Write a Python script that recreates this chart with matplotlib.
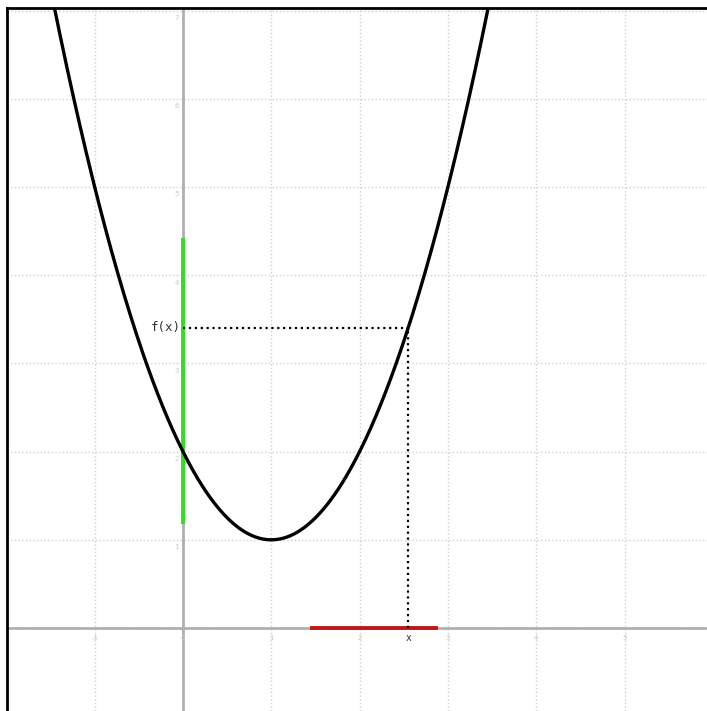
import numpy as np
import matplotlib.pyplot as plt

# parabola f(x) = x^2 - 2x + 2
coeffs = [1, -2, 2]
x_point = 2.55
green_range = [1.2, 4.4]   # segment on y axis
red_range = [1.46, 2.87]   # segment on x axis
x_ticks = [-1, 0, 1, 2, 3, 4, 5]
y_ticks = [1, 2, 3, 4, 5, 6, 7]

fig = plt.figure(figsize=(7.07, 7.11), dpi=100)
ax = fig.add_axes([7 / 707, 0, 700 / 707, 703 / 711])

xs = np.linspace(-2.5, 6, 600)
ax.plot(xs, np.polyval(coeffs, xs), color='black', lw=2.4, zorder=5)

# grid
ax.set_xticks(x_ticks)
ax.set_yticks([0] + y_ticks)
ax.grid(True, linestyle=':', color='#d0d0d0', lw=1)
ax.tick_params(length=0, labelbottom=False, labelleft=False)

# axes lines
ax.axhline(0, color='#b0b0b0', lw=2, zorder=2)
ax.axvline(0, color='#b0b0b0', lw=2, zorder=2)
for t in x_ticks:
    ax.text(t, -0.08, str(t), fontsize=5, color='#c8c8c8', ha='center', va='top')
for t in y_ticks:
    ax.text(-0.05, t - 0.05, str(t), fontsize=5, color='#c8c8c8', ha='right', va='top')

# intervals
ax.plot([0, 0], green_range, color='#33dd22', lw=2.8, zorder=4)
ax.plot(red_range, [0, 0], color='#c01818', lw=2.8, zorder=4)

# dotted guides
fx = np.polyval(coeffs, x_point)
ax.plot([0, x_point], [fx, fx], color='black', ls=':', lw=1.6, zorder=6)
ax.plot([x_point, x_point], [0, fx], color='black', ls=':', lw=1.6, zorder=6)
ax.text(-0.03, fx, 'f(x)', fontsize=9, family='DejaVu Sans Mono', color='#333333',
        ha='right', va='center')
ax.text(x_point, -0.06, 'x', fontsize=7, family='DejaVu Sans Mono', color='#333333',
        ha='center', va='top')

ax.set_xlim(-1.993, 5.934)
ax.set_ylim(-0.941, 7.03)

for s in ['right', 'bottom']:
    ax.spines[s].set_visible(False)
for s in ['left', 'top']:
    ax.spines[s].set_color('black')
    ax.spines[s].set_linewidth(2)

fig.savefig('out.png', dpi=100)
